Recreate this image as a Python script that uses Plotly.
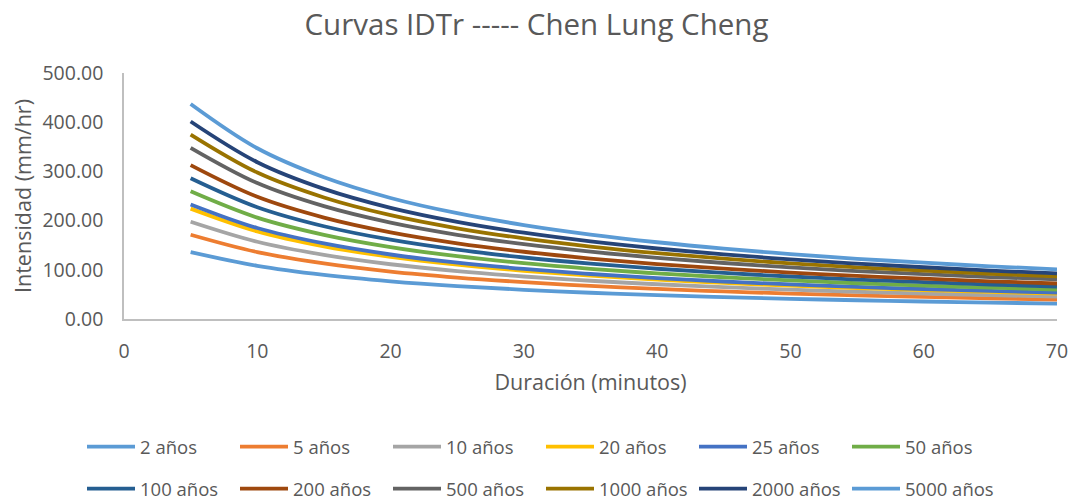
import plotly.graph_objects as go

duracion = [5, 10, 15, 20, 25, 30, 35, 40, 45, 50, 55, 60, 65, 70]

series_names = ["2 años", "5 años", "10 años", "20 años", "25 años", "50 años",
                "100 años", "200 años", "500 años", "1000 años", "2000 años", "5000 años"]

i_2 = [136.0, 108.0, 89.6, 76.6, 66.9, 59.4, 53.4, 48.6, 44.5, 41.1, 38.1, 35.6, 33.3, 31.4]
i_5 = [171.3, 136.0, 112.9, 96.4, 84.3, 74.9, 67.3, 61.2, 56.0, 51.7, 48.0, 44.9, 42.0, 39.6]
i_10 = [197.7, 157.0, 130.3, 111.3, 97.3, 86.4, 77.7, 70.6, 64.7, 59.7, 55.4, 51.8, 48.4, 45.7]
i_20 = [224.3, 178.1, 147.8, 126.3, 110.4, 98.0, 88.2, 80.1, 73.4, 67.7, 62.8, 58.8, 55.0, 51.8]
i_25 = [232.9, 184.9, 153.5, 131.1, 114.6, 101.8, 91.5, 83.2, 76.2, 70.3, 65.2, 61.0, 57.1, 53.8]
i_50 = [259.5, 206.0, 171.0, 146.1, 127.7, 113.4, 102.0, 92.6, 84.9, 78.4, 72.7, 68.0, 63.6, 59.9]
i_100 = [286.1, 227.2, 188.5, 161.1, 140.8, 125.0, 112.4, 102.1, 93.6, 86.4, 80.1, 75.0, 70.1, 66.1]
i_200 = [312.7, 248.3, 206.1, 176.1, 153.9, 136.7, 122.9, 111.6, 102.3, 94.4, 87.6, 81.9, 76.6, 72.2]
i_500 = [348.0, 276.3, 229.3, 195.9, 171.2, 152.1, 136.8, 124.2, 113.8, 105.1, 97.4, 91.2, 85.3, 80.4]
i_1000 = [374.8, 297.6, 247.0, 211.0, 184.4, 163.8, 147.3, 133.8, 122.6, 113.2, 104.9, 98.2, 91.8, 86.6]
i_2000 = [401.4, 318.7, 264.5, 226.0, 197.5, 175.4, 157.8, 143.3, 131.3, 121.2, 112.4, 105.2, 98.3, 92.7]
i_5000 = [437.0, 347.0, 288.0, 246.0, 215.0, 191.0, 171.7, 156.0, 142.9, 132.0, 122.4, 114.5, 107.1, 101.0]

all_series = [i_2, i_5, i_10, i_20, i_25, i_50, i_100, i_200, i_500, i_1000, i_2000, i_5000]

colors = ["#5B9BD5", "#ED7D31", "#A5A5A5", "#FFC000", "#4472C4", "#70AD47",
          "#255E91", "#9E480E", "#636363", "#997300", "#264478", "#5B9BD5"]

FONT = "Open Sans"
TXT = "#595959"

fig = go.Figure()
for k, (name, vals, col) in enumerate(zip(series_names, all_series, colors)):
    fig.add_trace(go.Scatter(
        x=duracion, y=vals, name=name, mode="lines",
        line=dict(color=col, width=3.8, shape="spline", smoothing=1.0),
        legend="legend" if k < 6 else "legend2",
    ))

legend_common = dict(
    orientation="h", xanchor="left", yanchor="middle",
    font=dict(family=FONT, size=18.5, color=TXT),
    entrywidth=90, entrywidthmode="pixels",
    bgcolor="rgba(0,0,0,0)", itemwidth=48, traceorder="normal",
)

fig.update_layout(
    width=1073, height=502,
    margin=dict(l=124, r=16, t=73, b=183, autoexpand=False),
    paper_bgcolor="white", plot_bgcolor="white",
    title=dict(text="Curvas IDTr ----- Chen Lung Cheng", x=0.5, xanchor="center",
               y=1 - 25 / 502, yanchor="middle",
               font=dict(family=FONT, size=29.5, color=TXT)),
    xaxis=dict(range=[0, 70], dtick=10, tick0=0, showgrid=False, zeroline=False,
               showline=True, linecolor="#BFBFBF", linewidth=1.5, automargin=False,
               ticks="", ticklabelstandoff=14,
               tickfont=dict(family=FONT, size=19.5, color=TXT),
               title=dict(text="Duración (minutos)", font=dict(family=FONT, size=21.5, color=TXT),
                          standoff=12)),
    yaxis=dict(range=[0, 500], dtick=100, tick0=0, tickformat=".2f", showgrid=False,
               zeroline=False, showline=True, linecolor="#BFBFBF", linewidth=1.5,
               automargin=False, ticks="", ticklabelstandoff=15,
               tickfont=dict(family=FONT, size=19.5, color=TXT),
               title=dict(text="Intensidad (mm/hr)", font=dict(family=FONT, size=21.5, color=TXT),
                          standoff=5)),
    legend=dict(x=(82 - 124) / 933, y=-(447 - 319) / 246, **legend_common),
    legend2=dict(x=(82 - 124) / 933, y=-(489 - 319) / 246, **legend_common),
    showlegend=True,
)

fig.write_html("out.html")
